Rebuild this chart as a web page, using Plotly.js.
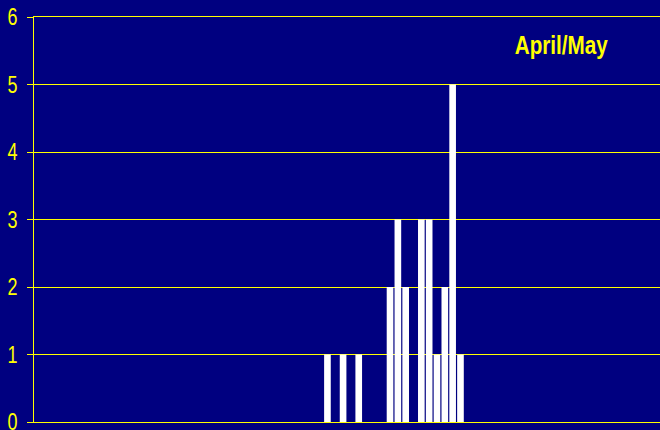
<!DOCTYPE html>
<html>
<head>
<meta charset="utf-8">
<script src="https://cdn.plot.ly/plotly-3.0.1.min.js"></script>
<style>html,body{margin:0;padding:0;background:#000080;}</style>
</head>
<body>
<div id="chart" style="width:660px;height:430px;"></div>
<script>
// Day slot index (0..79 across the April/May period) and number of cases
const days = [37, 39, 41, 45, 46, 47, 49, 50, 51, 52, 53, 54];
const counts = [1, 1, 1, 2, 3, 2, 3, 3, 1, 2, 5, 1];
const yTicks = [0, 1, 2, 3, 4, 5, 6];
const titleText = "April/May";

const font = "'Liberation Sans Narrow', 'Arial Narrow', 'Liberation Sans', Arial, sans-serif";

const trace = {
  type: 'bar',
  x: days,
  y: counts,
  width: 0.85,
  marker: {color: '#FFFFFF', line: {width: 0}},
  hoverinfo: 'skip'
};

const layout = {
  width: 660,
  height: 430,
  margin: {l: 34, r: 0, t: 17, b: 8, pad: 0},
  paper_bgcolor: '#000080',
  plot_bgcolor: '#000080',
  showlegend: false,
  xaxis: {
    range: [-0.5, 79.5],
    showticklabels: false,
    ticks: '',
    showgrid: false,
    zeroline: false,
    showline: true,
    mirror: true,
    linecolor: '#FFFF00',
    linewidth: 1
  },
  yaxis: {
    range: [0, 6],
    tickvals: yTicks,
    ticktext: yTicks.map(String),
    ticks: 'outside',
    ticklen: 6,
    tickcolor: '#FFFF00',
    tickwidth: 1,
    ticklabelstandoff: 5,
    ticklabeloverflow: 'allow',
    showgrid: true,
    gridcolor: '#FFFF00',
    gridwidth: 1,
    zeroline: false,
    showline: true,
    linecolor: '#FFFF00',
    linewidth: 1,
    tickfont: {family: font, size: 23, color: '#FFFF00'}
  },
  annotations: [{
    text: '<b>' + titleText + '</b>',
    xref: 'paper', yref: 'paper',
    x: 0.842, y: 0.93,
    xanchor: 'center', yanchor: 'middle',
    showarrow: false,
    font: {family: font, size: 25, color: '#FFFF00'}
  }]
};

Plotly.newPlot('chart', [trace], layout, {displayModeBar: false, staticPlot: true}).then(function (gd) {
  // emulate the narrow typeface of the original by condensing glyphs
  gd.querySelectorAll('.annotation-text').forEach(function (t) {
    t.setAttribute('textLength', '93');
    t.setAttribute('lengthAdjust', 'spacingAndGlyphs');
  });
  gd.querySelectorAll('.ytick text').forEach(function (t) {
    t.setAttribute('textLength', '10');
    t.setAttribute('lengthAdjust', 'spacingAndGlyphs');
  });
});
</script>
</body>
</html>
